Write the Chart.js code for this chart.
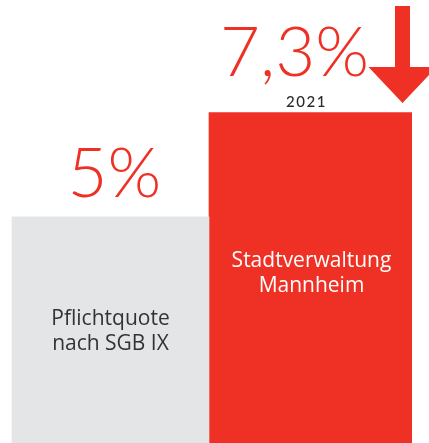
<!DOCTYPE html>
<html><head><meta charset="utf-8">
<script src="https://cdn.jsdelivr.net/npm/chart.js@4"></script>
<style>html,body{margin:0;padding:0;background:#fff;}#wrap{width:429px;height:443px;position:relative;}</style>
</head><body><div id="wrap"><canvas id="c"></canvas></div>
<script>
const categories = ["Pflichtquote\nnach SGB IX", "Stadtverwaltung\nMannheim"];
const values = [5, 7.3];
const valueLabels = ["5%", "7,3%"];
const yearLabels = ["", "2021"];
const barColors = ["#e4e5e7", "#ee3124"];
const textColors = ["#333333", "#ffffff"];

const overlay = {
  id: 'overlay',
  afterDatasetsDraw(chart) {
    const ctx = chart.ctx;
    const bars = [chart.getDatasetMeta(0).data[0], chart.getDatasetMeta(1).data[1]];
    ctx.save();
    bars.forEach((bar, i) => {
      const lines = categories[i].split("\n");
      ctx.fillStyle = "#ee3124";
      ctx.textAlign = "center";
      ctx.textBaseline = "alphabetic";
      ctx.font = "300 69px Lato";
      const dx = i === 0 ? 4 : -17;
      const dy = i === 0 ? 20 : 37;
      ctx.fillText(valueLabels[i], bar.x + dx, bar.y - dy);
      if (yearLabels[i]) {
        ctx.fillStyle = "#2a2a2a";
        ctx.font = "500 15px Lato";
        ctx.letterSpacing = "1.5px";
        ctx.fillText(yearLabels[i], bar.x - 5, bar.y - 6);
        ctx.letterSpacing = "0px";
      }
      ctx.fillStyle = textColors[i];
      ctx.font = "400 21px 'Open Sans'";
      const base = i === 0 ? 325 : 267;
      lines.forEach((l, k) => ctx.fillText(l, bar.x, base + k * 25));
    });
    const rb = bars[1];
    const cx = rb.x + 91;
    ctx.fillStyle = "#ee3124";
    ctx.beginPath();
    ctx.moveTo(cx - 7.5, 6);
    ctx.lineTo(cx + 7.5, 6);
    ctx.lineTo(cx + 7.5, 67);
    ctx.lineTo(cx + 34, 67);
    ctx.lineTo(cx, 103);
    ctx.lineTo(cx - 34, 67);
    ctx.lineTo(cx - 7.5, 67);
    ctx.closePath();
    ctx.fill();
    ctx.restore();
  }
};

new Chart(document.getElementById('c'), {
  type: 'bar',
  data: {
    labels: categories,
    datasets: [
      { data: [values[0], null], backgroundColor: barColors[0], borderWidth: 0, barThickness: 197 },
      { data: [null, values[1]], backgroundColor: barColors[1], borderWidth: 0, barThickness: 205 }
    ]
  },
  options: {
    responsive: true, maintainAspectRatio: false, animation: false,
    grouped: false,
    layout: { padding: { left: 10, right: 17, top: 0, bottom: 0 } },
    plugins: { legend: { display: false }, tooltip: { enabled: false } },
    scales: {
      x: { display: false, grid: { display: false } },
      y: { display: false, min: 0, max: 9.79, grid: { display: false } }
    }
  },
  plugins: [overlay]
});
</script></body></html>
